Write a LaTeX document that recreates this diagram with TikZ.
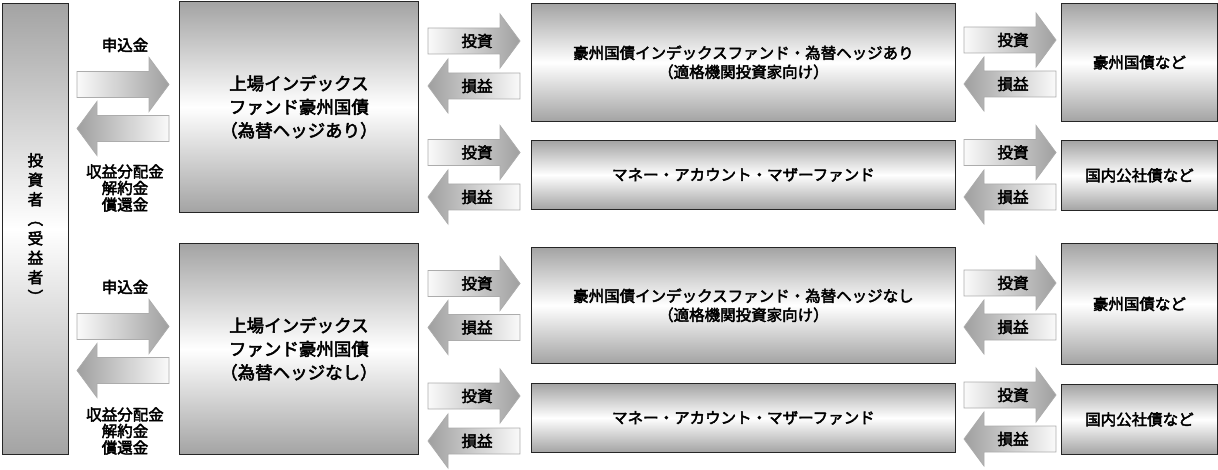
\documentclass[tikz,border=0pt]{standalone}
\usepackage{fontspec}
\setmainfont{Noto Sans CJK JP}
\newfontfamily\jpm{Noto Sans CJK JP}[FakeBold=2.8]
\usepackage{tikz}
\usetikzlibrary{positioning}

\newcommand{\vlp}{\rotatebox[origin=c]{-90}{（}}
\newcommand{\vrp}{\rotatebox[origin=c]{-90}{）}}

\tikzset{
	box/.style={draw=black!85, line width=0.8pt, top color=gray!72, bottom color=gray!72,
		middle color=white, inner sep=0pt, anchor=north west, align=center,
		font=\jpm\fontsize{15.5}{19}\selectfont},
	lbl/.style={inner sep=0pt, align=center, font=\jpm\fontsize{15.5}{16.5}\selectfont},
	arrowfill/.style={draw=gray!65, line width=0.8pt},
	rarrow/.pic={
		\path[arrowfill, left color=gray!4, right color=gray!75]
		(-46,-13) -- (26,-13) -- (26,-27) -- (46,0) -- (26,27) -- (26,13) -- (-46,13) -- cycle;
		\node[lbl] (-t) at (3,0) {#1};},
	larrow/.pic={
		\path[arrowfill, left color=gray!75, right color=gray!4]
		(46,-13) -- (-26,-13) -- (-26,-27) -- (-46,0) -- (-26,27) -- (-26,13) -- (46,13) -- cycle;
		\node[lbl] (-t) at (3,0) {#1};}
}

\begin{document}
\begin{tikzpicture}[x=1pt,y=-1pt]
	\useasboundingbox (0,0) rectangle (1218,470);
	
	% investor
	\node[box, minimum width=66pt, minimum height=451pt,
	font=\jpm\fontsize{15.5}{19.5}\selectfont] (inv) at (2,3)
	{投\\資\\者\\\vlp\\受\\益\\者\\\vrp};
	
	% upper half: hedged
	\node[box, minimum width=239pt, minimum height=211pt,
	font=\jpm\fontsize{17.5}{23.5}\selectfont] (etfA) at (179,1)
	{上場インデックス\\ファンド豪州国債\\（為替ヘッジあり）};
	\node[box, minimum width=424pt, minimum height=118pt] (mfA) at (531,3)
	{豪州国債インデックスファンド・為替ヘッジあり\\（適格機関投資家向け）};
	\node[box, minimum width=424pt, minimum height=69pt] (mmA) at (531,140)
	{マネー・アカウント・マザーファンド};
	\node[box, minimum width=156pt, minimum height=118pt] (bondA) at (1061,3) {豪州国債など};
	\node[box, minimum width=156pt, minimum height=70pt] (domA) at (1061,140) {国内公社債など};
	
	\node[lbl] (subA) at (125,45) {申込金};
	\node[lbl] (retA) at (125,188) {収益分配金\\解約金\\償還金};
	\pic (inA) at (123,84.5) {rarrow={}};
	\pic (outA) at (123,128.5) {larrow={}};
	\pic (ivA1) at (474,41) {rarrow=投資};
	\pic (plA1) at (474,86) {larrow=損益};
	\pic (ivA2) at (474,152.5) {rarrow=投資};
	\pic (plA2) at (474,197) {larrow=損益};
	\pic (ivA3) at (1010,40) {rarrow=投資};
	\pic (plA3) at (1010,84) {larrow=損益};
	\pic (ivA4) at (1010,152.5) {rarrow=投資};
	\pic (plA4) at (1010,197) {larrow=損益};
	
	% lower half: unhedged
	\node[box, minimum width=239pt, minimum height=211pt,
	font=\jpm\fontsize{17.5}{23.5}\selectfont] (etfB) at (179,243)
	{上場インデックス\\ファンド豪州国債\\（為替ヘッジなし）};
	\node[box, minimum width=424pt, minimum height=116pt] (mfB) at (531,247)
	{豪州国債インデックスファンド・為替ヘッジなし\\（適格機関投資家向け）};
	\node[box, minimum width=424pt, minimum height=69pt] (mmB) at (531,383)
	{マネー・アカウント・マザーファンド};
	\node[box, minimum width=156pt, minimum height=121pt] (bondB) at (1061,243) {豪州国債など};
	\node[box, minimum width=156pt, minimum height=70pt] (domB) at (1061,384) {国内公社債など};
	
	\node[lbl] (subB) at (125,287) {申込金};
	\node[lbl] (retB) at (125,431) {収益分配金\\解約金\\償還金};
	\pic (inB) at (123,326.5) {rarrow={}};
	\pic (outB) at (123,370.5) {larrow={}};
	\pic (ivB1) at (474,283.5) {rarrow=投資};
	\pic (plB1) at (474,327.5) {larrow=損益};
	\pic (ivB2) at (474,396) {rarrow=投資};
	\pic (plB2) at (474,441) {larrow=損益};
	\pic (ivB3) at (1010,283) {rarrow=投資};
	\pic (plB3) at (1010,327) {larrow=損益};
	\pic (ivB4) at (1010,395) {rarrow=投資};
	\pic (plB4) at (1010,439) {larrow=損益};
\end{tikzpicture}
\end{document}
